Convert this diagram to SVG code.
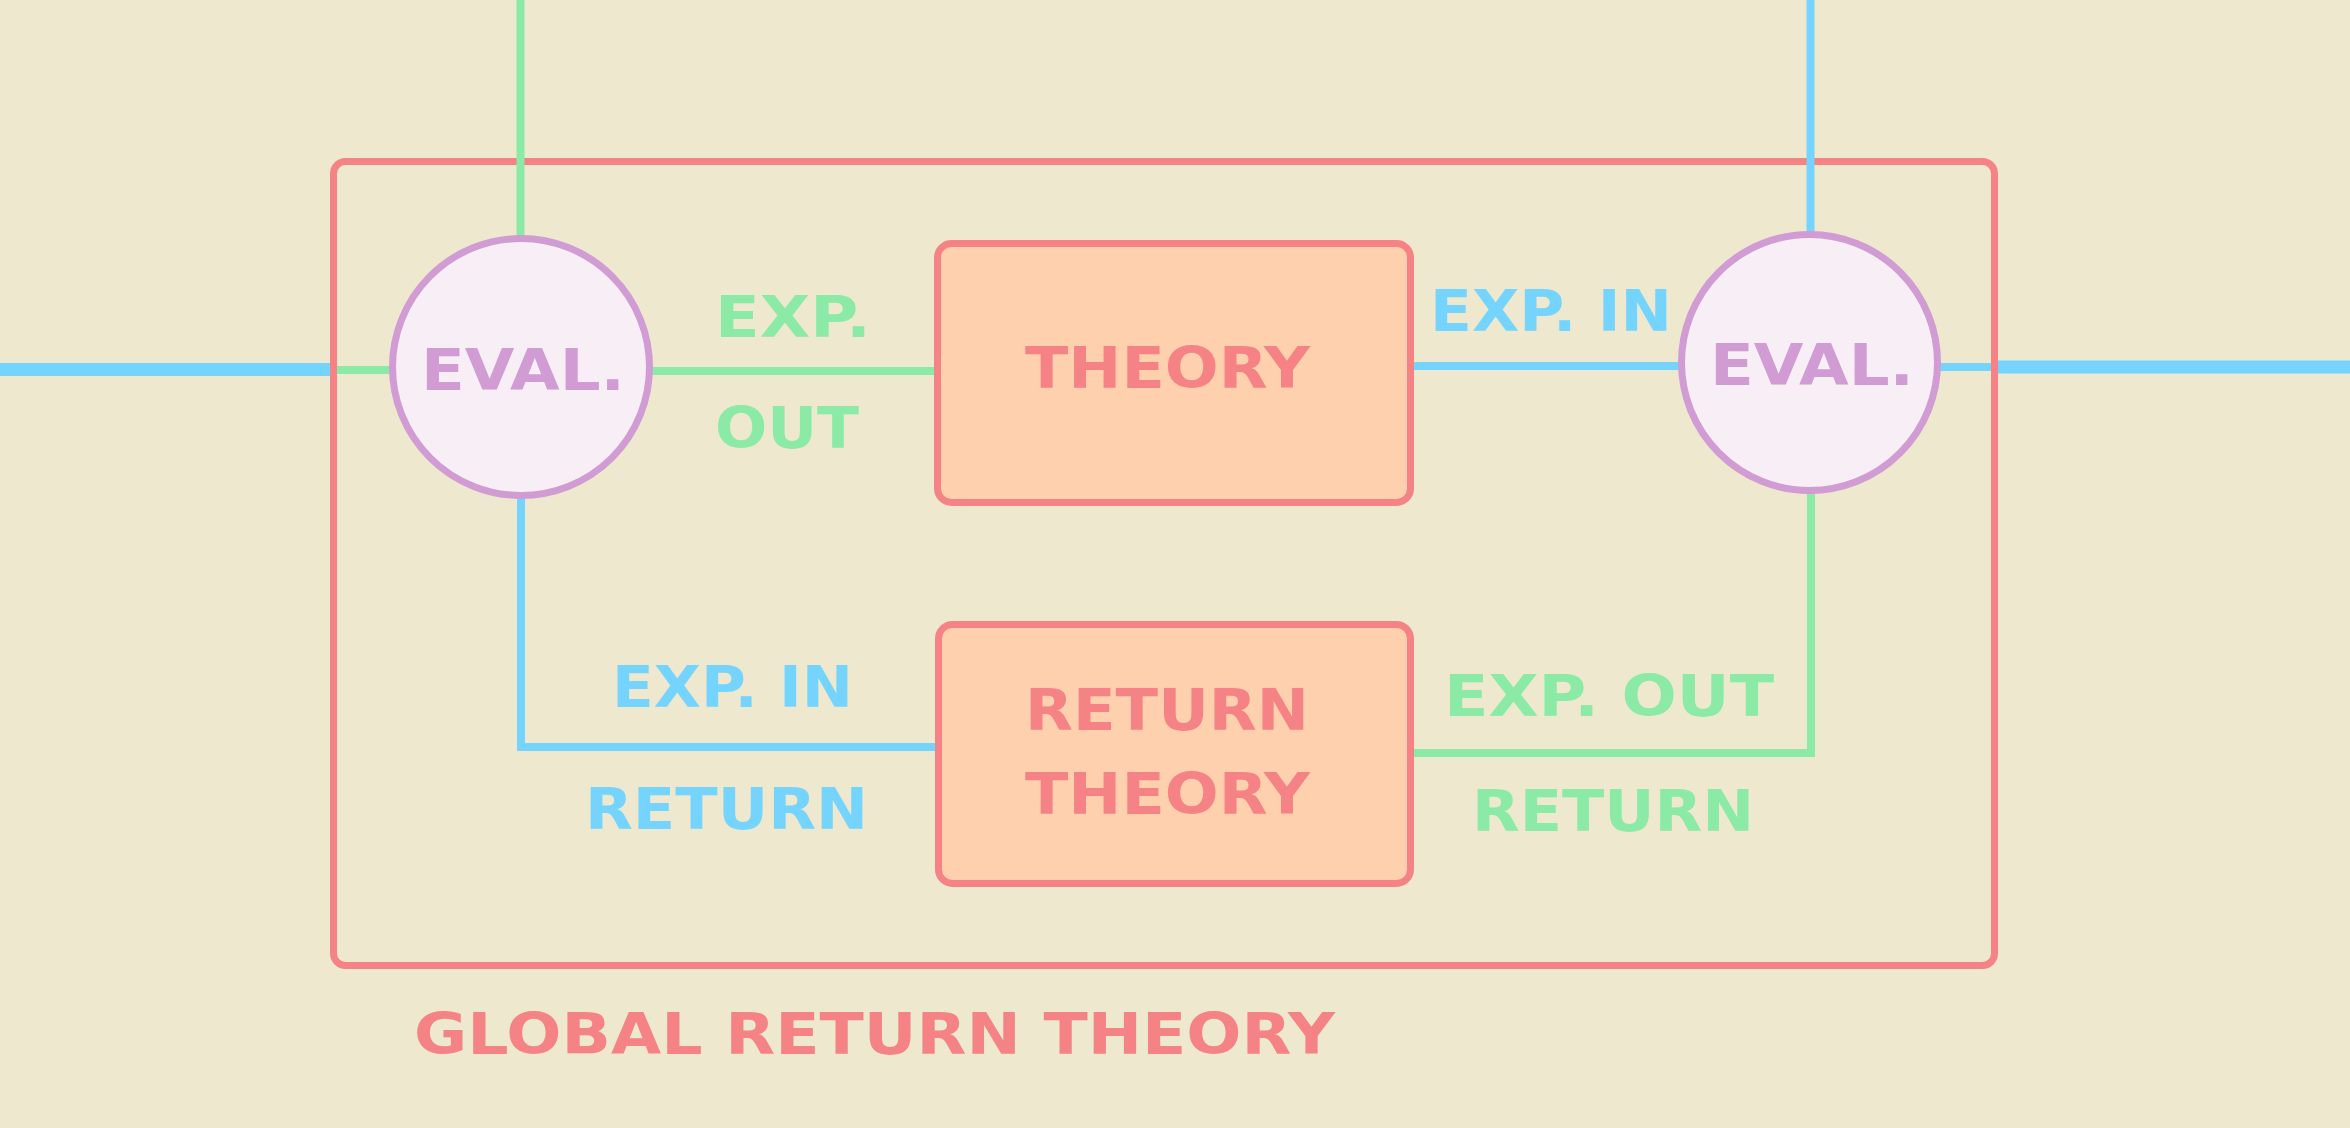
<svg xmlns="http://www.w3.org/2000/svg" width="2350" height="1128" viewBox="0 0 2350 1128">
<style>
.bg{fill:#EDE8CE}
.g{stroke:#8AEAA6;fill:none;stroke-width:8}
.b{stroke:#74D4FE;fill:none;stroke-width:8}
.bt{stroke:#74D4FE;fill:none;stroke-width:13}
.frame{fill:none;stroke:#F58386;stroke-width:7}
.box{fill:#FED0AD;stroke:#F58386;stroke-width:7}
.eval{fill:#F8EEF6;stroke:#D19BD3;stroke-width:7}
text{font-family:"DejaVu Sans","Liberation Sans",sans-serif;font-weight:bold;font-size:57px}
.tr{fill:#F58386}
.tp{fill:#D19BD3}
.tg{fill:#8AEAA6}
.tb{fill:#74D4FE}
</style>
<rect class="bg" x="0" y="0" width="2350" height="1128"/>
<g id="global">
<rect class="frame" x="333.5" y="161.5" width="1661" height="804" rx="12"/>
<text class="tr" x="414" y="1054" textLength="921" lengthAdjust="spacingAndGlyphs">GLOBAL RETURN THEORY</text>
</g>
<g id="connectors">
<line class="bt" x1="0" y1="369.5" x2="330" y2="369.5"/>
<line class="g" x1="337" y1="370" x2="521" y2="370"/>
<line class="g" x1="520.5" y1="0" x2="520.5" y2="367"/>
<line class="g" x1="521" y1="371" x2="936" y2="371"/>
<line class="b" x1="1414" y1="366" x2="1809" y2="366"/>
<line class="b" x1="1810.5" y1="0" x2="1810.5" y2="362"/>
<line class="b" x1="1809" y1="367" x2="1991" y2="367"/>
<line class="bt" x1="1998" y1="367" x2="2350" y2="367"/>
<polyline class="b" points="521,367 521,747 937,747"/>
<polyline class="g" points="1412,753 1811,753 1811,362"/>
<text class="tg" x="715" y="337" textLength="156" lengthAdjust="spacingAndGlyphs">EXP.</text>
<text class="tg" x="715" y="448" textLength="144" lengthAdjust="spacingAndGlyphs">OUT</text>
<text class="tb" x="1430" y="331" textLength="242" lengthAdjust="spacingAndGlyphs">EXP. IN</text>
<text class="tb" x="612" y="707" textLength="241" lengthAdjust="spacingAndGlyphs">EXP. IN</text>
<text class="tb" x="585" y="829" textLength="283" lengthAdjust="spacingAndGlyphs">RETURN</text>
<text class="tg" x="1444" y="716" textLength="330" lengthAdjust="spacingAndGlyphs">EXP. OUT</text>
<text class="tg" x="1472" y="831" textLength="282" lengthAdjust="spacingAndGlyphs">RETURN</text>
</g>
<g id="eval1">
<circle class="eval" cx="521" cy="367" r="128.5"/>
<text class="tp" x="421" y="390" textLength="204" lengthAdjust="spacingAndGlyphs">EVAL.</text>
</g>
<g id="theory">
<rect class="box" x="937.5" y="243.5" width="473" height="259" rx="14"/>
<text class="tr" x="1025" y="388" textLength="285" lengthAdjust="spacingAndGlyphs">THEORY</text>
</g>
<g id="eval2">
<circle class="eval" cx="1809.5" cy="362.5" r="128"/>
<text class="tp" x="1710" y="385" textLength="204" lengthAdjust="spacingAndGlyphs">EVAL.</text>
</g>
<g id="return-theory">
<rect class="box" x="938.5" y="624.5" width="472" height="259" rx="14"/>
<text class="tr" x="1025" y="730" textLength="284" lengthAdjust="spacingAndGlyphs">RETURN</text>
<text class="tr" x="1025" y="814" textLength="285" lengthAdjust="spacingAndGlyphs">THEORY</text>
</g>
</svg>
